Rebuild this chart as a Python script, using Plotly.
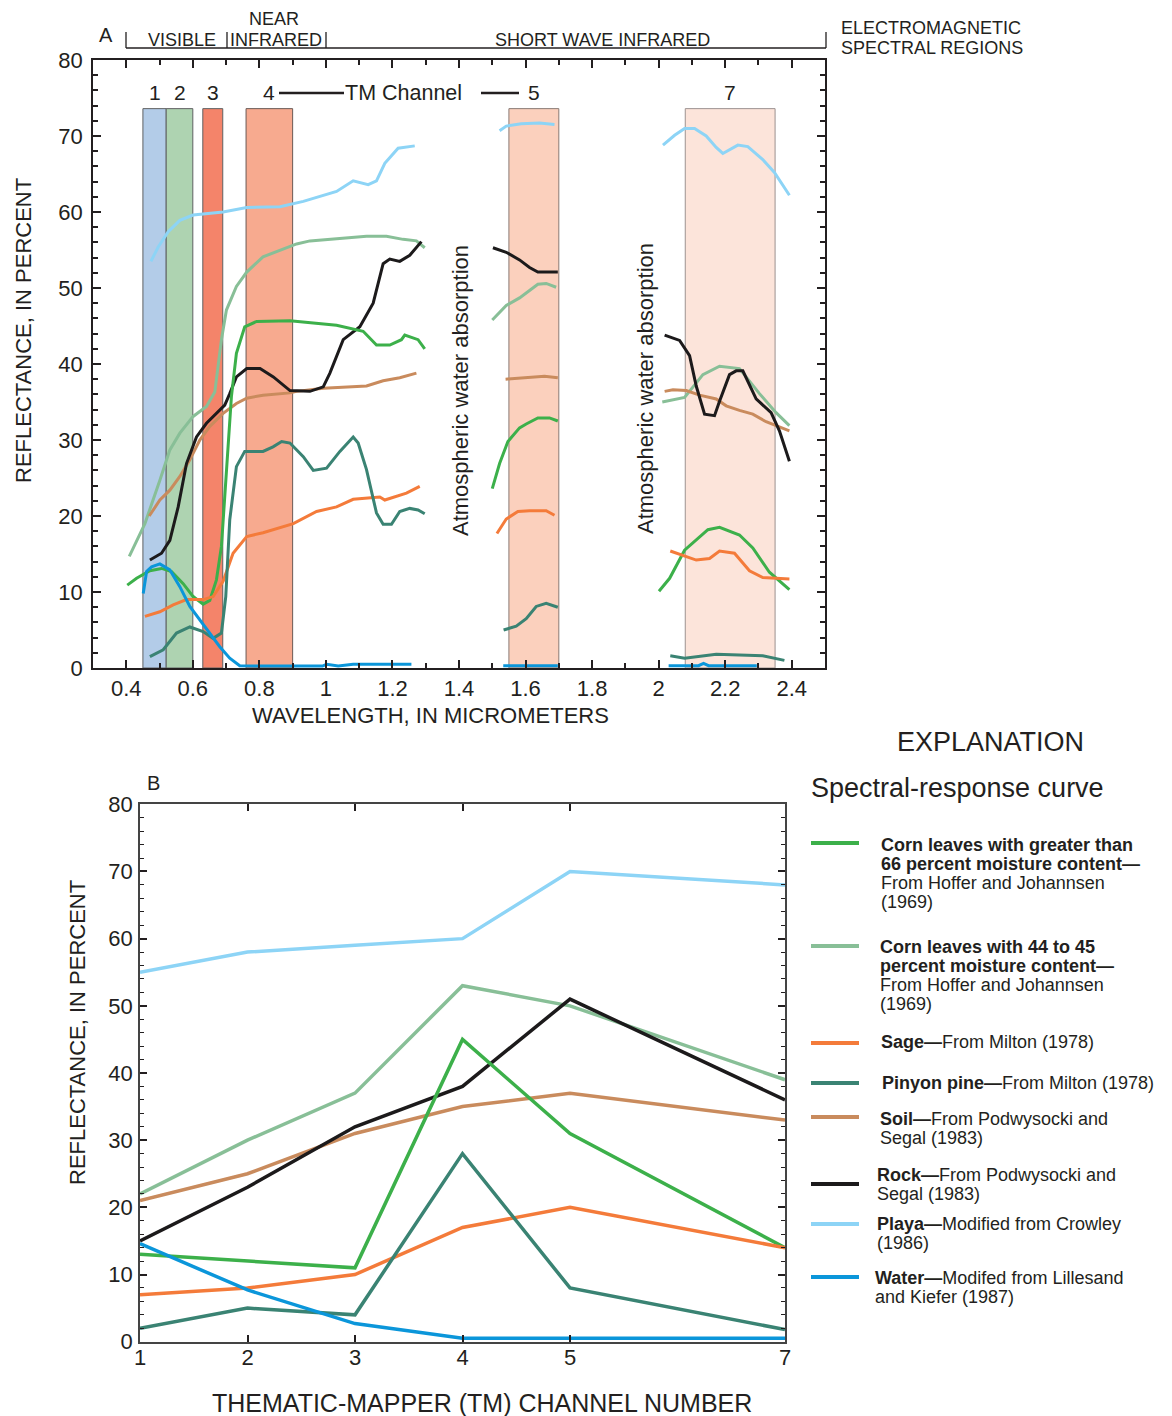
import plotly.graph_objects as go

W, H = 1172, 1416
FONT = "Liberation Sans, Arial, Helvetica, sans-serif"
INK = "#231f20"

# ---------------- Panel A: laboratory spectra (None separates the three windows)
corn66_wl = [0.403, 0.431, 0.471, 0.506, 0.536, 0.571, 0.601, 0.631, 0.651, 0.671, 0.686, 0.696, 0.706, 0.716,
             0.731, 0.756, 0.792, 0.892, 1.032, 1.112, 1.152, 1.192, 1.227, 1.237, 1.277, 1.297, None,
             1.500, 1.522, 1.547, 1.582, 1.602, 1.637, 1.672, 1.697, None,
             2.001, 2.033, 2.078, 2.148, 2.183, 2.243, 2.283, 2.333, 2.393]
corn66_refl = [10.9, 11.8, 12.8, 13.1, 12.7, 11.1, 9.4, 8.4, 8.9, 11.6, 16.0, 22.5, 30.0, 35.7,
               41.4, 44.9, 45.6, 45.7, 45.1, 44.3, 42.5, 42.5, 43.2, 43.8, 43.2, 42.0, None,
               23.6, 26.9, 29.8, 31.6, 32.1, 32.9, 32.9, 32.5, None,
               10.1, 11.8, 15.5, 18.2, 18.5, 17.5, 15.8, 12.6, 10.3]

corn44_wl = [0.409, 0.456, 0.501, 0.531, 0.561, 0.601, 0.641, 0.666, 0.686, 0.701, 0.731, 0.762, 0.811, 0.852,
             0.912, 0.952, 1.012, 1.122, 1.182, 1.232, 1.272, 1.297, None,
             1.500, 1.542, 1.582, 1.612, 1.637, 1.662, 1.692, None,
             2.011, 2.078, 2.133, 2.183, 2.243, 2.303, 2.353, 2.393]
corn44_refl = [14.7, 19.0, 24.7, 28.7, 30.9, 33.1, 34.4, 36.3, 43.2, 47.1, 50.2, 52.1, 54.1, 54.8,
               55.8, 56.2, 56.4, 56.8, 56.8, 56.4, 56.2, 55.3, None,
               45.8, 47.7, 48.7, 49.7, 50.5, 50.6, 50.1, None,
               35.0, 35.6, 38.6, 39.7, 39.4, 36.1, 33.6, 31.9]

sage_wl = [0.456, 0.501, 0.541, 0.581, 0.631, 0.661, 0.691, 0.721, 0.762, 0.811, 0.902, 0.972, 1.032, 1.082,
           1.162, 1.177, 1.242, 1.282, None,
           1.514, 1.542, 1.577, 1.612, 1.662, 1.687, None,
           2.035, 2.073, 2.113, 2.153, 2.183, 2.228, 2.273, 2.313, 2.393]
sage_refl = [6.8, 7.4, 8.3, 9.0, 9.0, 9.4, 11.4, 15.1, 17.3, 17.8, 19.0, 20.6, 21.2, 22.2,
             22.5, 22.1, 23.0, 23.9, None,
             17.7, 19.6, 20.6, 20.7, 20.7, 20.1, None,
             15.4, 14.8, 14.2, 14.4, 15.4, 15.1, 12.8, 11.9, 11.7]

pinyon_wl = [0.471, 0.511, 0.551, 0.591, 0.631, 0.661, 0.686, 0.699, 0.711, 0.731, 0.756, 0.811, 0.841, 0.867,
             0.892, 0.932, 0.962, 1.002, 1.042, 1.082, 1.097, 1.122, 1.152, 1.172, 1.197, 1.222, 1.252, 1.277,
             1.297, None,
             1.534, 1.572, 1.602, 1.632, 1.662, 1.697, None,
             2.035, 2.078, 2.173, 2.313, 2.378]
pinyon_refl = [1.5, 2.4, 4.6, 5.4, 4.8, 3.9, 4.6, 9.4, 19.5, 26.5, 28.5, 28.5, 29.1, 29.8,
               29.6, 27.8, 26.0, 26.3, 28.5, 30.4, 29.6, 26.1, 20.4, 18.9, 18.9, 20.6, 21.0, 20.8,
               20.3, None,
               5.0, 5.5, 6.5, 8.1, 8.5, 8.0, None,
               1.6, 1.3, 1.8, 1.6, 1.0]

soil_wl = [0.469, 0.501, 0.531, 0.561, 0.591, 0.621, 0.651, 0.691, 0.731, 0.762, 0.811, 0.892, 0.912, 0.992,
           1.122, 1.172, 1.222, 1.272, None,
           1.540, 1.602, 1.657, 1.697, None,
           2.018, 2.043, 2.083, 2.123, 2.173, 2.203, 2.243, 2.283, 2.323, 2.363, 2.393]
soil_refl = [20.0, 22.1, 23.4, 25.2, 27.4, 30.0, 31.8, 33.5, 34.8, 35.5, 35.9, 36.2, 36.4, 36.8,
             37.1, 37.8, 38.2, 38.8, None,
             38.0, 38.2, 38.4, 38.2, None,
             36.4, 36.6, 36.5, 35.9, 35.4, 34.5, 33.9, 33.4, 32.4, 31.7, 31.2]

rock_wl = [0.471, 0.506, 0.531, 0.556, 0.581, 0.611, 0.641, 0.671, 0.696, 0.711, 0.731, 0.762, 0.802, 0.842,
           0.892, 0.952, 0.992, 1.012, 1.052, 1.102, 1.142, 1.172, 1.192, 1.222, 1.252, 1.287, None,
           1.502, 1.542, 1.582, 1.612, 1.637, 1.697, None,
           2.018, 2.063, 2.093, 2.113, 2.138, 2.168, 2.183, 2.213, 2.233, 2.253, 2.293, 2.338, 2.363, 2.393]
rock_refl = [14.2, 15.1, 16.8, 21.2, 26.9, 30.4, 32.2, 33.5, 34.6, 36.1, 38.3, 39.4, 39.4, 38.3,
             36.5, 36.4, 37.0, 38.8, 43.2, 44.9, 48.0, 53.2, 53.8, 53.5, 54.3, 56.1, None,
             55.3, 54.7, 53.7, 52.7, 52.1, 52.1, None,
             43.8, 43.1, 41.1, 37.1, 33.4, 33.2, 35.1, 38.6, 39.1, 39.1, 35.4, 33.6, 31.2, 27.2]

playa_wl = [0.474, 0.496, 0.526, 0.561, 0.601, 0.691, 0.762, 0.862, 0.932, 1.032, 1.082, 1.127, 1.152, 1.177,
            1.217, 1.267, None,
            1.522, 1.542, 1.587, 1.642, 1.687, None,
            2.013, 2.048, 2.078, 2.108, 2.143, 2.173, 2.193, 2.238, 2.268, 2.313, 2.348, 2.393]
playa_refl = [53.5, 55.4, 57.4, 58.9, 59.6, 60.0, 60.6, 60.7, 61.4, 62.7, 64.1, 63.6, 64.1, 66.4,
              68.4, 68.7, None,
              70.7, 71.3, 71.6, 71.7, 71.5, None,
              68.8, 70.1, 71.0, 71.0, 70.0, 68.5, 67.7, 68.8, 68.6, 66.9, 65.2, 62.2]

water_wl = [0.451, 0.461, 0.476, 0.501, 0.531, 0.561, 0.591, 0.621, 0.651, 0.681, 0.711, 0.741, 0.800,
            0.990, 1.002, 1.037, 1.082, 1.257, None,
            1.533, 1.697, None,
            2.030, 2.120, 2.135, 2.150, 2.295]
water_refl = [9.8, 12.7, 13.3, 13.7, 12.9, 10.7, 8.1, 6.3, 4.6, 2.8, 1.3, 0.3, 0.25,
              0.25, 0.5, 0.25, 0.5, 0.5, None,
              0.3, 0.3, None,
              0.3, 0.3, 0.6, 0.3, 0.3]

# Thematic Mapper bands (micrometres)
tm_bands = ["1", "2", "3", "4", "5", "7"]
tm_band_start = [0.45, 0.52, 0.63, 0.76, 1.55, 2.08]
tm_band_end = [0.52, 0.60, 0.69, 0.90, 1.70, 2.35]
tm_band_top = 73.6
tm_band_fill = ["#b3cce8", "#aed3b1", "#f4846a", "#f7aa8f", "#fbd0bd", "#fce4da"]
tm_band_edge = ["#5f6062", "#5f6062", "#5f6062", "#6b5a55", "#8a7a74", "#9c9290"]

# ---------------- Panel B: band-averaged reflectance
tm_channel = [1, 2, 3, 4, 5, 7]
b_corn66 = [13, 12, 11, 45, 31, 14]
b_corn44 = [22, 30, 37, 53, 50, 39]
b_sage = [7, 8, 10, 17, 20, 14]
b_pinyon = [2, 5, 4, 28, 8, 1.8]
b_soil = [21, 25, 31, 35, 37, 33]
b_rock = [15, 23, 32, 38, 51, 36]
b_playa = [55, 58, 59, 60, 70, 68]
b_water = [14.6, 7.7, 2.7, 0.5, 0.5, 0.5]

C_CORN66 = "#3cb04a"
C_CORN44 = "#88bf97"
C_SAGE = "#f47b3a"
C_PINYON = "#3a8373"
C_SOIL = "#c98b5d"
C_ROCK = "#1c1a1b"
C_PLAYA = "#8dd4f6"
C_WATER = "#0b96da"


def px(x):
    return x / W


def py(y):
    return 1 - y / H


fig = go.Figure()

# TM band rectangles
for lab, x0, x1, fc, ec in zip(tm_bands, tm_band_start, tm_band_end, tm_band_fill, tm_band_edge):
    fig.add_trace(go.Scatter(
        x=[x0, x0, x1, x1, x0], y=[0, tm_band_top, tm_band_top, 0, 0],
        mode="lines", fill="toself", fillcolor=fc, line=dict(color=ec, width=1),
        xaxis="x", yaxis="y", hoverinfo="skip", showlegend=False))

panel_a = [
    (playa_wl, playa_refl, C_PLAYA),
    (corn44_wl, corn44_refl, C_CORN44),
    (soil_wl, soil_refl, C_SOIL),
    (rock_wl, rock_refl, C_ROCK),
    (corn66_wl, corn66_refl, C_CORN66),
    (sage_wl, sage_refl, C_SAGE),
    (pinyon_wl, pinyon_refl, C_PINYON),
    (water_wl, water_refl, C_WATER),
]
for wl, rf, col in panel_a:
    fig.add_trace(go.Scatter(x=wl, y=rf, mode="lines", line=dict(color=col, width=3),
                             xaxis="x", yaxis="y", showlegend=False, connectgaps=False))

panel_b = [
    (b_playa, C_PLAYA),
    (b_corn44, C_CORN44),
    (b_soil, C_SOIL),
    (b_rock, C_ROCK),
    (b_corn66, C_CORN66),
    (b_sage, C_SAGE),
    (b_pinyon, C_PINYON),
    (b_water, C_WATER),
]
for vals, col in panel_b:
    fig.add_trace(go.Scatter(x=tm_channel, y=vals, mode="lines", line=dict(color=col, width=3.5),
                             xaxis="x2", yaxis="y2", showlegend=False))

annotations = []
shapes = []


def text(x, y, s, size, anchor="center", angle=0):
    # left-anchored labels: compensate for the annotation box padding
    xx = x - 3 if anchor == "left" else x
    annotations.append(dict(
        x=px(xx), y=py(y), xref="paper", yref="paper", text=s, showarrow=False,
        xanchor=anchor, yanchor="middle", textangle=angle,
        font=dict(family=FONT, size=size, color=INK)))


def line(x0, y0, x1, y1, color=INK, width=1.3):
    shapes.append(dict(type="line", xref="paper", yref="paper",
                       x0=px(x0), y0=py(y0), x1=px(x1), y1=py(y1),
                       line=dict(color=color, width=width)))


# Spectral region bracket above panel A
line(126, 48, 826, 48)
for xv in (126, 227, 326, 826):
    line(xv, 32, xv, 48)
text(106, 35, "A", 20)
text(182, 40, "VISIBLE", 18)
text(274, 19, "NEAR", 18)
text(276, 40, "INFRARED", 18)
text(602, 40, "SHORT WAVE INFRARED", 18)
text(842, 28, "ELECTROMAGNETIC", 18, anchor="left")
text(842, 48, "SPECTRAL REGIONS", 18, anchor="left")

# Band numbers
for lab, x0, x1 in zip(tm_bands, tm_band_start, tm_band_end):
    annotations.append(dict(x=(x0 + x1) / 2, y=75.7, xref="x", yref="y", text=lab, showarrow=False,
                            xanchor="center", yanchor="middle",
                            font=dict(family=FONT, size=21, color=INK)))
text(403, 93, "TM Channel", 21.5)
line(279, 93, 344, 93, width=2.5)
line(481, 93, 519, 93, width=2.5)

text(461, 391, "Atmospheric water absorption", 22, angle=-90)
text(645, 389, "Atmospheric water absorption", 22, angle=-90)

# Axis titles
text(24, 331, "REFLECTANCE, IN PERCENT", 22, angle=-90)
text(430, 716, "WAVELENGTH, IN MICROMETERS", 22)
text(153, 783, "B", 20)
text(77, 1033, "REFLECTANCE, IN PERCENT", 22, angle=-90)
text(482, 1403, "THEMATIC-MAPPER (TM) CHANNEL NUMBER", 25)

# Explanation
text(990, 742, "EXPLANATION", 27)
text(812, 788, "Spectral-response curve", 27, anchor="left")

legend_items = [
    (C_CORN66, 843, 882, [(845, "<b>Corn leaves with greater than</b>"),
                          (864, "<b>66 percent moisture content—</b>"),
                          (883, "From Hoffer and Johannsen"),
                          (902, "(1969)")]),
    (C_CORN44, 946, 881, [(947, "<b>Corn leaves with 44 to 45</b>"),
                          (966, "<b>percent moisture content—</b>"),
                          (985, "From Hoffer and Johannsen"),
                          (1004, "(1969)")]),
    (C_SAGE, 1043, 882, [(1042, "<b>Sage—</b>From Milton (1978)")]),
    (C_PINYON, 1083, 883, [(1083, "<b>Pinyon pine—</b>From Milton (1978)")]),
    (C_SOIL, 1117, 881, [(1119, "<b>Soil—</b>From Podwysocki and"),
                         (1138, "Segal (1983)")]),
    (C_ROCK, 1184, 878, [(1175, "<b>Rock—</b>From Podwysocki and"),
                         (1194, "Segal (1983)")]),
    (C_PLAYA, 1224, 878, [(1224, "<b>Playa—</b>Modified from Crowley"),
                          (1243, "(1986)")]),
    (C_WATER, 1277, 876, [(1278, "<b>Water—</b>Modifed from Lillesand"),
                          (1297, "and Kiefer (1987)")]),
]
for col, sy, tx, rows in legend_items:
    line(811, sy, 859, sy, color=col, width=4)
    for ty, s in rows:
        text(tx, ty, s, 18, anchor="left")

axis_common = dict(showgrid=False, zeroline=False, showline=True, linecolor=INK, linewidth=1.5,
                   ticks="inside", tickcolor=INK, tickwidth=1.5, mirror="ticks", automargin=False,
                   tickfont=dict(family=FONT, size=22, color=INK))

fig.update_layout(
    width=W, height=H, margin=dict(l=0, r=0, t=0, b=0, pad=0, autoexpand=False),
    paper_bgcolor="white", plot_bgcolor="white", showlegend=False,
    xaxis=dict(axis_common, domain=[px(93), px(825)], range=[0.3, 2.5], tick0=0.4, dtick=0.2,
               ticklen=8, ticklabelstandoff=0, anchor="y",
               minor=dict(ticks="inside", dtick=0.1, tick0=0.3, ticklen=5, tickwidth=1.5, tickcolor=INK)),
    yaxis=dict(axis_common, domain=[py(668), py(60)], range=[0, 80], dtick=10, ticklen=8,
               ticklabelstandoff=4, anchor="x",
               minor=dict(ticks="inside", dtick=2, ticklen=5, tickwidth=1.5, tickcolor=INK)),
    xaxis2=dict(axis_common, domain=[px(140), px(785)], range=[1, 7], tickmode="array",
                tickvals=tm_channel, ticktext=[str(c) for c in tm_channel], ticklen=7,
                ticklabelstandoff=-5, anchor="y2", linecolor="#444"),
    yaxis2=dict(axis_common, domain=[py(1341.7), py(804.3)], range=[0, 80], dtick=10, ticklen=7,
                ticklabelstandoff=1, anchor="x2", linecolor="#444",
                minor=dict(ticks="inside", dtick=2, ticklen=4, tickwidth=1.2, tickcolor=INK)),
    annotations=annotations, shapes=shapes,
)

fig.write_html("out.html")
